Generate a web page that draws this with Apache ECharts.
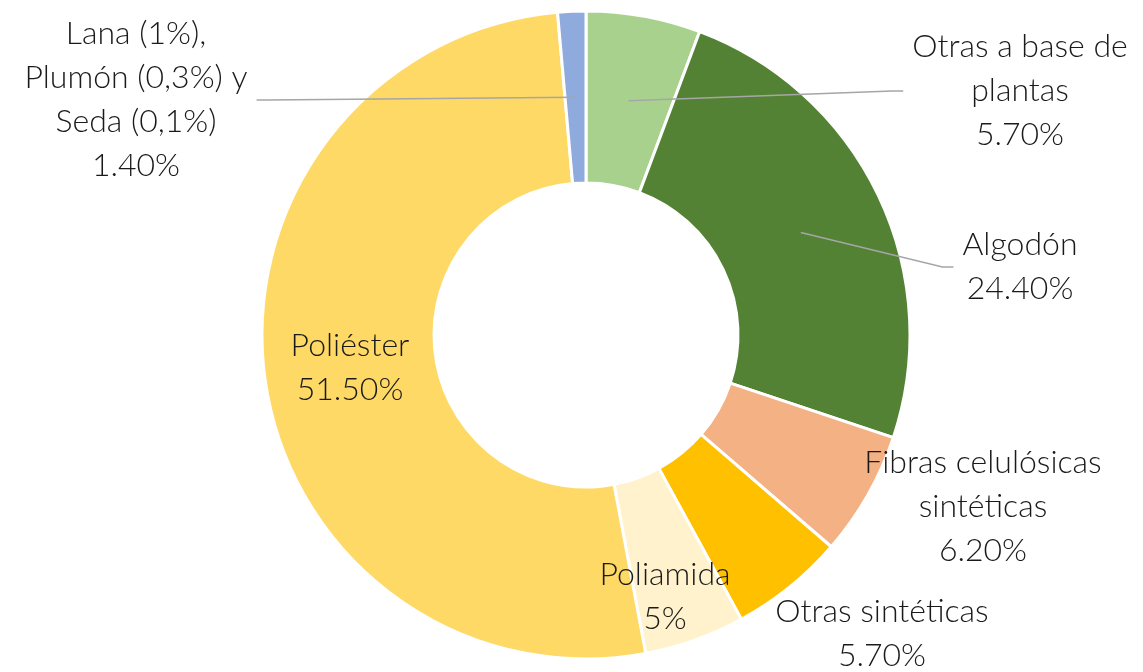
<!DOCTYPE html>
<html>
<head>
<meta charset="utf-8">
<script src="https://cdn.jsdelivr.net/npm/echarts@6/dist/echarts.min.js"></script>
<style>
  html, body { margin: 0; padding: 0; background: #fff; }
  #chart { width: 1143px; height: 672px; }
</style>
</head>
<body>
<div id="chart"></div>
<script>
// fibras, en el orden de las porciones (sentido horario desde arriba)
const categories = [
  "Otras a base de\nplantas",
  "Algodón",
  "Fibras celulósicas\nsintéticas",
  "Otras sintéticas",
  "Poliamida",
  "Poliéster",
  "Lana (1%),\nPlumón (0,3%) y\nSeda (0,1%)"
];
const shares = [5.7, 24.4, 6.2, 5.7, 5, 51.5, 1.4];
const colors = ["#A9D18E", "#548235", "#F4B183", "#FFC000", "#FFF2CC", "#FFD966", "#8FAADC"];

// layout
const CX = 586, CY = 335, R_IN = 152, R_OUT = 324;
const R_MID = (R_IN + R_OUT) / 2;
const labelPos = [[1020, 91], [1020, 267], [983, 507], [882, 634], [665, 597], [350, 368], [136, 100]];
const withLine = [true, true, false, false, false, false, true];

const total = shares.reduce((a, b) => a + b, 0);
function midAngle(i) {
  let cum = 0;
  for (let k = 0; k < i; k++) cum += shares[k];
  const deg = 90 - 360 * (cum + shares[i] / 2) / total;
  return deg * Math.PI / 180;
}

function pctText(v) {
  return v % 1 === 0 ? v + "%" : v.toFixed(2) + "%";
}

const chart = echarts.init(document.getElementById("chart"));

const pieBase = {
  type: "pie",
  center: [CX, CY],
  radius: [R_IN, R_OUT],
  startAngle: 90,
  clockwise: true,
  avoidLabelOverlap: false,
  emphasis: { disabled: true }
};

const option = {
  animation: false,
  series: [
    // the ring itself
    Object.assign({}, pieBase, {
      z: 2,
      itemStyle: { borderColor: "#fff", borderWidth: 3 },
      label: { show: false },
      labelLine: { show: false },
      data: categories.map((name, i) => ({
        name: name,
        value: shares[i],
        itemStyle: { color: colors[i] }
      }))
    }),
    // transparent copy on top, so leader lines are drawn over the slices
    Object.assign({}, pieBase, {
      z: 3,
      silent: true,
      itemStyle: { color: "transparent", borderWidth: 0 },
      label: {
        show: true,
        position: "outside",
        color: "#1a1a1a",
        fontFamily: "Lato",
        fontWeight: 300,
        fontSize: 32,
        lineHeight: 44,
        align: "center",
        formatter: p => p.name + "\n" + pctText(p.value)
      },
      labelLine: {
        show: true,
        lineStyle: { color: "#A6A6A6", width: 1.5 }
      },
      labelLayout: function (params) {
        const i = params.dataIndex;
        const x = labelPos[i][0], y = labelPos[i][1];
        const out = { x: x, y: y, align: "center", verticalAlign: "middle" };
        if (withLine[i]) {
          const a = midAngle(i);
          const sx = CX + R_MID * Math.cos(a);
          const sy = CY - R_MID * Math.sin(a);
          const side = x > CX ? -1 : 1;
          const ex = x + side * (params.labelRect.width / 2 + 9);
          out.labelLinePoints = [[sx, sy], [ex + side * 11, y], [ex, y]];
        }
        return out;
      },
      data: categories.map((name, i) => ({
        name: name,
        value: shares[i],
        labelLine: { show: withLine[i] }
      }))
    })
  ]
};

chart.setOption(option);
</script>
</body>
</html>
